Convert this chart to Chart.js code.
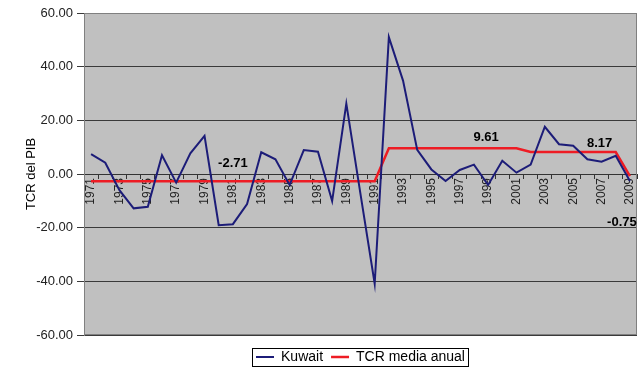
<!DOCTYPE html>
<html>
<head>
<meta charset="utf-8">
<script src="https://cdn.jsdelivr.net/npm/chart.js@4"></script>
<style>
  html, body { margin: 0; padding: 0; background: #fff; }
  #wrap { width: 638px; height: 379px; }
</style>
</head>
<body>
<div id="wrap"><canvas id="chart-area"></canvas></div>
<script>
var years = [];
for (var y = 1971; y <= 2009; y++) years.push(String(y));

var kuwait = [7.4, 4.2, -6.0, -12.8, -12.2, 7.0, -3.2, 7.7, 14.2, -19.1,
    -18.7, -11.2, 8.1, 5.5, -4.1, 8.9, 8.3, -10.1, 26.2, -7.5,
    -40.9, 51.0, 34.8, 9.0, 1.7, -2.6, 1.5, 3.5, -4.1, 4.9,
    0.5, 3.5, 17.6, 11.1, 10.5, 5.5, 4.6, 6.8, -2.6];

var tcrMedia = [-2.71, -2.71, -2.71, -2.71, -2.71, -2.71, -2.71, -2.71, -2.71, -2.71,
    -2.71, -2.71, -2.71, -2.71, -2.71, -2.71, -2.71, -2.71, -2.71, -2.71,
    -2.71, 9.61, 9.61, 9.61, 9.61, 9.61, 9.61, 9.61, 9.61, 9.61,
    9.61, 8.17, 8.17, 8.17, 8.17, 8.17, 8.17, 8.17, -0.75];

// which points of the average line carry a value label
var labelYears = ['1981', '1999', '2007', '2009'];

var font = "'Liberation Sans', Arial, sans-serif";

var plotBg = {
    id: 'plotBg',
    beforeDraw: function(chart) {
        var a = chart.chartArea, ctx = chart.ctx;
        ctx.save();
        ctx.fillStyle = '#c0c0c0';
        ctx.fillRect(a.left, a.top, a.right - a.left, a.bottom - a.top);
        ctx.restore();
    },
    afterDraw: function(chart) {
        var a = chart.chartArea, ctx = chart.ctx;
        ctx.save();
        ctx.strokeStyle = '#808080';
        ctx.lineWidth = 1;
        ctx.strokeRect(a.left + 0.5, a.top + 0.5, a.right - a.left - 1, a.bottom - a.top - 1);

        // value labels of the average line
        var xs = chart.scales.x, ys = chart.scales.y;
        var offs = { '1981': [0, -18], '1999': [-2, -11], '2007': [-2, -9], '2009': [-8, 46] };
        ctx.font = 'bold 13px ' + font;
        ctx.fillStyle = '#000';
        ctx.textAlign = 'center';
        ctx.textBaseline = 'middle';
        labelYears.forEach(function(yr) {
            var i = years.indexOf(yr);
            var v = tcrMedia[i];
            var px = xs.getPixelForValue(i) + offs[yr][0];
            var py = ys.getPixelForValue(v) + offs[yr][1];
            ctx.fillText(v.toFixed(2), px, py);
        });

        // frame round the legend
        var hb = chart.legend.legendHitBoxes;
        if (hb && hb.length) {
            var last = hb[hb.length - 1];
            var l = hb[0].left - 4, r = last.left + last.width + 3;
            var t = hb[0].top - 2, b = hb[0].top + hb[0].height + 2;
            ctx.strokeStyle = '#000';
            ctx.strokeRect(Math.round(l) + 0.5, Math.round(t) + 0.5, Math.round(r - l), Math.round(b - t));
        }
        ctx.restore();
    }
};

var config = {
    type: 'line',
    data: {
        labels: years,
        datasets: [{
            label: 'Kuwait',
            data: kuwait,
            borderColor: '#1c1c78',
            borderWidth: 2,
            pointRadius: 0,
            tension: 0,
            fill: false
        }, {
            label: 'TCR media anual',
            data: tcrMedia,
            borderColor: '#ee1c24',
            borderWidth: 2.5,
            pointRadius: 0,
            tension: 0,
            fill: false
        }]
    },
    options: {
        responsive: true,
        maintainAspectRatio: false,
        animation: false,
        layout: { padding: { top: 13, right: 1, left: 0, bottom: 5 } },
        plugins: {
            tooltip: { enabled: false },
            legend: {
                position: 'bottom',
                fullSize: false,
                // empty title only used as a spacer above the legend row
                title: {
                    display: true,
                    text: '',
                    font: { size: 1, lineHeight: 1 },
                    padding: { top: 0, bottom: 6 }
                },
                labels: {
                    font: { family: font, size: 14 },
                    color: '#000',
                    usePointStyle: true,
                    pointStyle: 'line',
                    pointStyleWidth: 18,
                    boxHeight: 12,
                    padding: 8
                }
            }
        },
        scales: {
            x: {
                position: { y: 0 },
                offset: true,
                afterFit: function(scale) { scale.paddingLeft = 0; scale.paddingRight = 0; },
                grid: {
                    offset: true,
                    drawOnChartArea: false,
                    drawTicks: true,
                    tickLength: 4,
                    color: '#333'
                },
                border: { display: true, color: '#333' },
                ticks: {
                    autoSkip: false,
                    minRotation: 90,
                    maxRotation: 90,
                    padding: 0,
                    color: '#222',
                    font: { family: font, size: 12 },
                    callback: function(val, idx) {
                        return idx % 2 === 0 ? this.getLabelForValue(val) : '';
                    }
                }
            },
            y: {
                min: -60,
                max: 60,
                afterFit: function(scale) { scale.width = 84; },
                ticks: {
                    stepSize: 20,
                    color: '#222',
                    padding: 4,
                    font: { family: font, size: 13 },
                    callback: function(v) { return v.toFixed(2); }
                },
                grid: {
                    color: '#3a3a3a',
                    tickLength: 7
                },
                border: { display: true, color: '#808080' },
                title: {
                    display: true,
                    text: 'TCR del PIB',
                    color: '#000',
                    font: { family: font, size: 13 },
                    padding: { top: 24, bottom: 0 }
                }
            }
        }
    },
    plugins: [plotBg]
};

var ctx = document.getElementById('chart-area').getContext('2d');
window.tcrChart = new Chart(ctx, config);
</script>
</body>
</html>
